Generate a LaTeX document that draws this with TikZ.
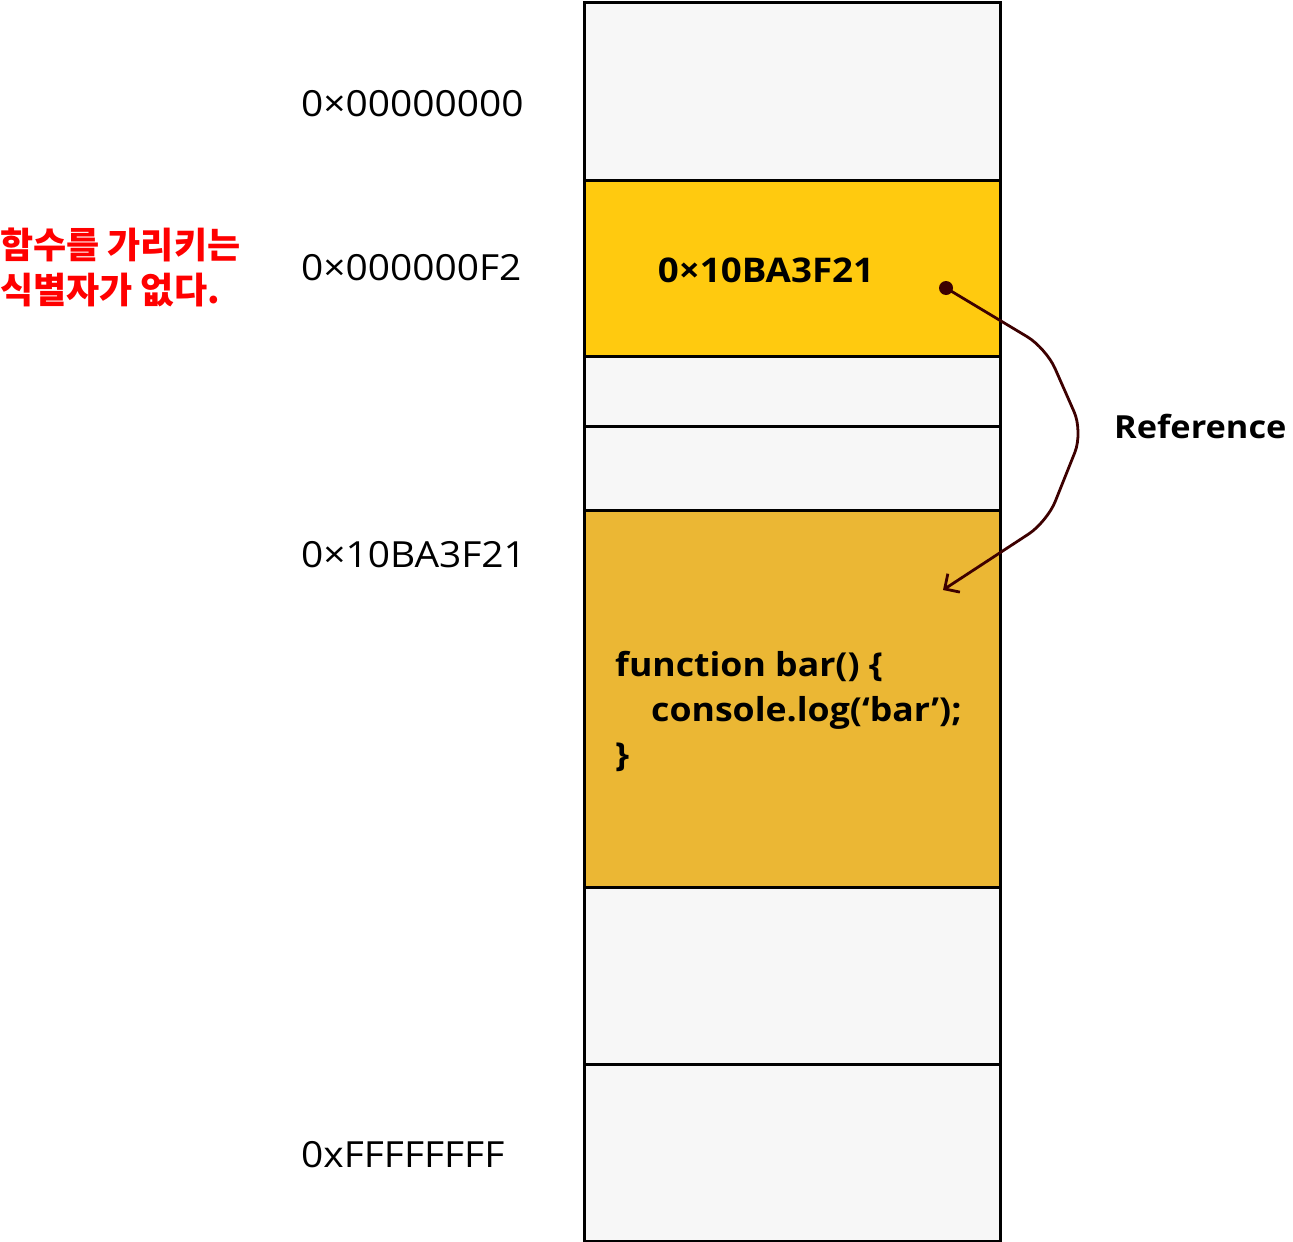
\documentclass[tikz,border=0pt]{standalone}
\usepackage{fontspec}
\setmainfont{Open Sans}[FakeStretch=1.08]
\newfontfamily\kr{Noto Sans CJK KR}
\usetikzlibrary{arrows.meta}
\definecolor{cellgray}{HTML}{F7F7F7}
\definecolor{cellyellow}{HTML}{FFCA0F}
\definecolor{cellorange}{HTML}{EBB734}
\definecolor{refred}{HTML}{3D0000}
\begin{document}
\begin{tikzpicture}[x=1pt,y=-1pt,
  cell/.style={draw=black, line width=3pt, minimum width=416pt, inner sep=0pt, anchor=north},
  addr/.style={anchor=west, inner sep=0pt, font=\fontsize{36}{40}\selectfont},
  boldtxt/.style={inner sep=0pt, font=\bfseries\fontsize{34}{40}\selectfont},
  code/.style={anchor=north west, inner sep=0pt, align=left, font=\bfseries\fontsize{33}{45}\selectfont},
  note/.style={anchor=north west, inner sep=0pt, align=left, text=red, font=\kr\bfseries\fontsize{36}{45}\selectfont},
  refarrow/.style={draw=refred, line width=2.8pt, rounded corners=22pt, -{Straight Barb[length=11pt,width=22pt]}},
  dot/.style={circle, fill=refred, minimum size=14pt, inner sep=0pt}
]
\useasboundingbox (0,0) rectangle (1293,1242);
% memory cells
\node[cell, fill=cellgray,   minimum height=178pt] (m1) at (792,1)    {};
\node[cell, fill=cellyellow, minimum height=176pt] (m2) at (792,179)  {};
\node[cell, fill=cellgray,   minimum height=70pt]  (m3) at (792,355)  {};
\node[cell, fill=cellgray,   minimum height=84pt]  (m4) at (792,425)  {};
\node[cell, fill=cellorange, minimum height=377pt] (m5) at (792,509)  {};
\node[cell, fill=cellgray,   minimum height=177pt] (m6) at (792,886)  {};
\node[cell, fill=cellgray,   minimum height=177pt] (m7) at (792,1063) {};
% addresses
\node[addr] (a1) at (301,104)  {0×00000000};
\node[addr] (a2) at (301,268)  {0×000000F2};
\node[addr] (a3) at (301,555)  {0×10BA3F21};
\node[addr] (a4) at (301,1155) {0xFFFFFFFF};
% contents
\node[boldtxt] (v2) at (766,270) {0×10BA3F21};
\node[code] (fn) at (615,651) {function bar() \{\\\hspace*{36pt}console.log(‘bar’);\\\}};
\node[boldtxt, anchor=west, font=\bfseries\fontsize{31.8}{36}\selectfont] (reflbl) at (1114,426) {Reference};
\node[note] (note) at (0,228) {함수를 가리키는\\식별자가 없다.};
% reference arrow
\node[dot] (src) at (946,288) {};
\coordinate (b1) at (1046,348);
\coordinate (b2) at (1083,432);
\coordinate (b3) at (1047,522);
\coordinate (dst) at (943,590);
\draw[refarrow] (src.center) -- (b1) -- (b2) -- (b3) -- (dst);
\end{tikzpicture}
\end{document}
